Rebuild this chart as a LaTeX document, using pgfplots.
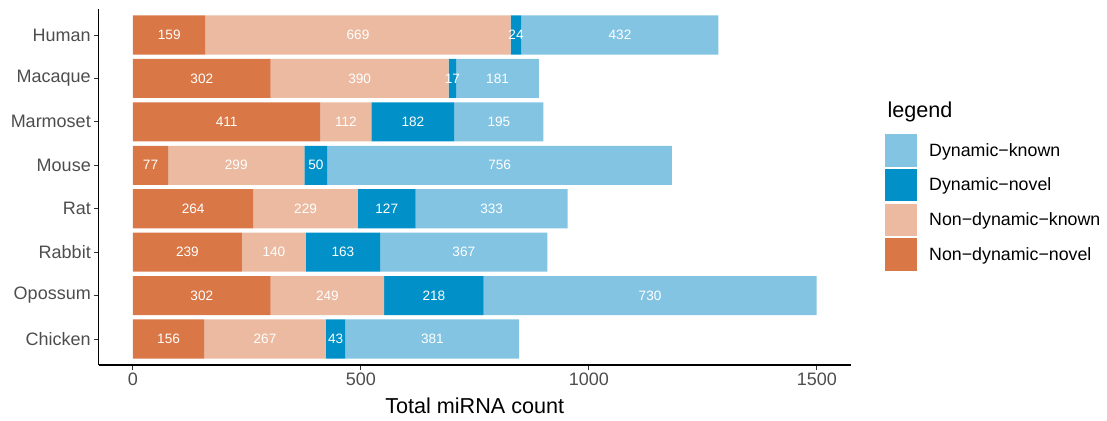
\documentclass[border=0pt]{standalone}
\usepackage{fontspec}
\setmainfont{Liberation Sans}
\usepackage{pgfplots}
\usepackage{pgfplotstable}
\pgfplotsset{compat=1.18}
\definecolor{cNN}{RGB}{217,119,70}
\definecolor{cNK}{RGB}{235,186,161}
\definecolor{cDN}{RGB}{1,145,200}
\definecolor{cDK}{RGB}{130,196,226}
\definecolor{tickgray}{RGB}{77,77,77}
% y: 8=Human ... 1=Chicken
\pgfplotstableread{
y v
8 159
7 302
6 411
5 77
4 264
3 239
2 302
1 156
}\tNN
\pgfplotstableread{
y v
8 669
7 390
6 112
5 299
4 229
3 140
2 249
1 267
}\tNK
\pgfplotstableread{
y v
8 24
7 17
6 182
5 50
4 127
3 163
2 218
1 43
}\tDN
\pgfplotstableread{
y v
8 432
7 181
6 195
5 756
4 333
3 367
2 730
1 381
}\tDK
% label positions: middle of each segment
\pgfplotstableread{
y mid lab
8 79.5 159
7 151 302
6 205.5 411
5 38.5 77
4 132 264
3 119.5 239
2 151 302
1 78 156
8 493.5 669
7 497 390
6 467 112
5 226.5 299
4 378.5 229
3 309 140
2 426.5 249
1 289.5 267
8 840 24
7 700.5 17
6 614 182
5 401 50
4 556.5 127
3 460.5 163
2 660 218
1 444.5 43
8 1068 432
7 799.5 181
6 802.5 195
5 804 756
4 786.5 333
3 725.5 367
2 1134 730
1 656.5 381
}\tLab
\pgfplotsset{common/.style={
  at={(98.8pt,54.94pt)}, anchor=south west,
  scale only axis, width=751.9pt, height=356.1pt,
  xmin=-74.95, xmax=1573.95, ymin=0.4, ymax=8.6}}
\begin{document}
\begin{tikzpicture}
\path[use as bounding box] (0,0) rectangle (1107pt,420pt);
\begin{axis}[
  common,
  axis x line*=bottom, axis y line*=left,
  xbar stacked, bar width=0.9,
  ytick={1,2,3,4,5,6,7,8},
  yticklabels={Chicken,Opossum,Rabbit,Rat,Mouse,Marmoset,Macaque,Human},
  xtick={0,500,1000,1500},
  /pgf/number format/1000 sep={},
  /pgf/number format/assume math mode=true,
  tick align=outside, major tick length=4.5pt,
  tick style={color=black!80, line width=1pt},
  axis line style={line width=1.2pt, black},
  ticklabel style={font=\fontsize{18}{20}\selectfont, text=tickgray},
  xlabel={Total miRNA count},
  xlabel style={at={(axis description cs:0.5,0)}, anchor=base, yshift=-48pt, font=\fontsize{21.6}{24}\selectfont},
  legend image code/.code={\fill[#1] (0pt,-16.2pt) rectangle (32pt,16.2pt);},
  reverse legend,
  legend cell align=left,
  legend style={name=leg, at={(1.0456,0.6489)}, anchor=north west, draw=none, fill=none,
    font=\fontsize{17.8}{20}\selectfont, row sep=2.3pt, inner sep=0pt,
    nodes={inner sep=0pt, anchor=west}, column sep=12pt},
]
\addplot[fill=cNN, draw=none] table[x=v, y=y] {\tNN};
\addlegendentry{Non−dynamic−novel}
\addplot[fill=cNK, draw=none] table[x=v, y=y] {\tNK};
\addlegendentry{Non−dynamic−known}
\addplot[fill=cDN, draw=none] table[x=v, y=y] {\tDN};
\addlegendentry{Dynamic−novel}
\addplot[fill=cDK, draw=none] table[x=v, y=y] {\tDK};
\addlegendentry{Dynamic−known}
\end{axis}
\begin{axis}[common, hide axis, clip=false]
\addplot[draw=none, mark=none, nodes near coords, point meta=explicit symbolic,
  nodes near coords style={anchor=center, text=white, font=\fontsize{13.6}{15}\selectfont, inner sep=0pt}]
  table[x=mid, y=y, meta=lab] {\tLab};
\end{axis}
\node[anchor=base west, xshift=-1pt, yshift=16pt, font=\fontsize{21.6}{24}\selectfont] at (leg.north west) {legend};
\end{tikzpicture}
\end{document}
